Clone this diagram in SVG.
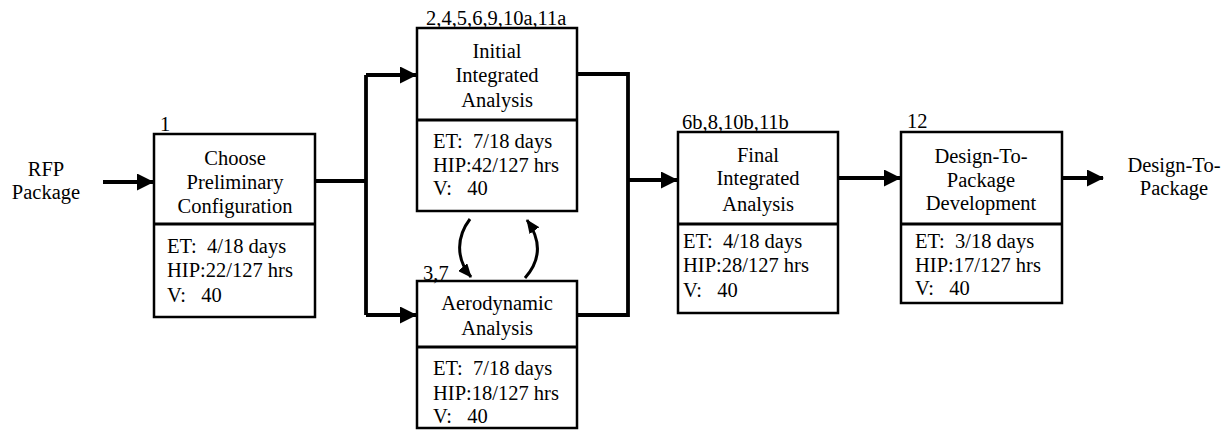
<svg xmlns="http://www.w3.org/2000/svg" width="1227" height="438" viewBox="0 0 1227 438">
<style>
text{font-family:"Liberation Serif","Times New Roman",serif;font-size:20.5px;fill:#000}
.c{text-anchor:middle}
.box{fill:#fff;stroke:#000;stroke-width:2.5}
.div{stroke:#000;stroke-width:3}
.con{fill:none;stroke:#000;stroke-width:3.8}
.cur{fill:none;stroke:#000;stroke-width:3}
</style>
<defs>
<marker id="ah" viewBox="0 0 17 17" refX="16" refY="8.5" markerWidth="17" markerHeight="17" markerUnits="userSpaceOnUse" orient="auto">
<path d="M0,0 L17,8.5 L0,17 z" fill="#000"/>
</marker>
<marker id="ahs" viewBox="0 0 14 12" refX="13" refY="6" markerWidth="14" markerHeight="12" markerUnits="userSpaceOnUse" orient="auto">
<path d="M0,0 L14,6 L0,12 z" fill="#000"/>
</marker>
</defs>
<g id="connectors">
<path class="con" d="M103,182 L153,182" marker-end="url(#ah)"/>
<path class="con" d="M315,181 L366,181"/>
<path class="con" d="M366,75 L366,315"/>
<path class="con" d="M366,75 L416,75" marker-end="url(#ah)"/>
<path class="con" d="M366,315 L416,315" marker-end="url(#ah)"/>
<path class="con" d="M577,74 L628,74 L628,315 L577,315"/>
<path class="con" d="M628,180 L677,180" marker-end="url(#ah)"/>
<path class="con" d="M838,178 L900,178" marker-end="url(#ah)"/>
<path class="con" d="M1062,178 L1103,178" marker-end="url(#ah)"/>
<path class="cur" d="M470,219 C457,236 455,258 471,277" marker-end="url(#ahs)"/>
<path class="cur" d="M525,278 C541,260 541,240 527,220" marker-end="url(#ahs)"/>
</g>
<g id="rfp-input">
<text class="c" x="46" y="176">RFP</text>
<text class="c" x="46" y="199">Package</text>
</g>
<g id="node1">
<rect class="box" x="154" y="134" width="161" height="183"/>
<line class="div" x1="154" y1="224" x2="315" y2="224"/>
<text x="160" y="131">1</text>
<text class="c" x="235" y="165">Choose</text>
<text class="c" x="235" y="189">Preliminary</text>
<text class="c" x="235" y="213">Configuration</text>
<text x="167" y="253" xml:space="preserve">ET:  4/18 days</text>
<text x="167" y="277">HIP:22/127 hrs</text>
<text x="167" y="302" xml:space="preserve">V:   40</text>
</g>
<g id="node2">
<rect class="box" x="417" y="28" width="160" height="183"/>
<line class="div" x1="417" y1="120" x2="577" y2="120"/>
<text x="426" y="25">2,4,5,6,9,10a,11a</text>
<text class="c" x="497" y="58">Initial</text>
<text class="c" x="497" y="82">Integrated</text>
<text class="c" x="497" y="107">Analysis</text>
<text x="433" y="148" xml:space="preserve">ET:  7/18 days</text>
<text x="433" y="172">HIP:42/127 hrs</text>
<text x="433" y="195" xml:space="preserve">V:   40</text>
</g>
<g id="node3">
<rect class="box" x="417" y="281" width="160" height="147"/>
<line class="div" x1="417" y1="347" x2="577" y2="347"/>
<text x="423" y="280">3,7</text>
<text class="c" x="497" y="310">Aerodynamic</text>
<text class="c" x="497" y="335">Analysis</text>
<text x="433" y="375" xml:space="preserve">ET:  7/18 days</text>
<text x="433" y="400">HIP:18/127 hrs</text>
<text x="433" y="423" xml:space="preserve">V:   40</text>
</g>
<g id="node4">
<rect class="box" x="678" y="132" width="160" height="181"/>
<line class="div" x1="678" y1="224" x2="838" y2="224"/>
<text x="682" y="129">6b,8,10b,11b</text>
<text class="c" x="758" y="162">Final</text>
<text class="c" x="758" y="185">Integrated</text>
<text class="c" x="758" y="211">Analysis</text>
<text x="683" y="248" xml:space="preserve">ET:  4/18 days</text>
<text x="683" y="272">HIP:28/127 hrs</text>
<text x="683" y="297" xml:space="preserve">V:   40</text>
</g>
<g id="node5">
<rect class="box" x="901" y="132" width="161" height="171"/>
<line class="div" x1="901" y1="224" x2="1062" y2="224"/>
<text x="907" y="128">12</text>
<text class="c" x="981" y="163">Design-To-</text>
<text class="c" x="981" y="187">Package</text>
<text class="c" x="981" y="210">Development</text>
<text x="915" y="248" xml:space="preserve">ET:  3/18 days</text>
<text x="915" y="272">HIP:17/127 hrs</text>
<text x="915" y="295" xml:space="preserve">V:   40</text>
</g>
<g id="output">
<text class="c" x="1174" y="172">Design-To-</text>
<text class="c" x="1174" y="195">Package</text>
</g>
</svg>
